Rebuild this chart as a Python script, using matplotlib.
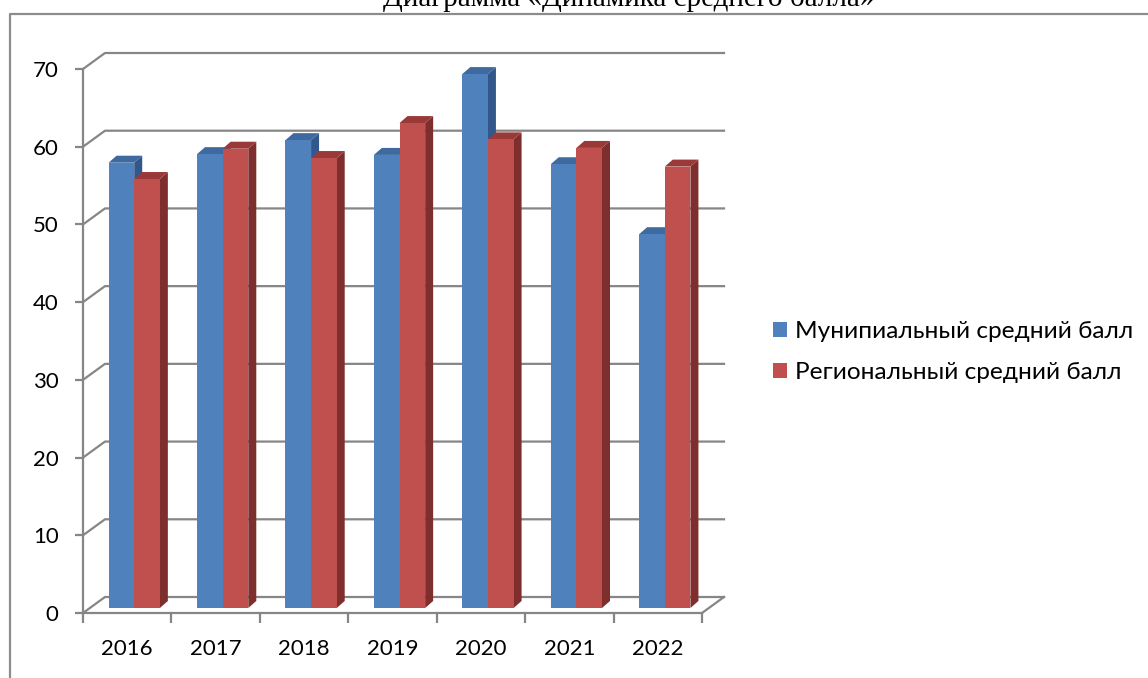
import matplotlib.pyplot as plt
import numpy as np
from matplotlib.patches import Polygon
from matplotlib.lines import Line2D

plt.rcParams['font.family'] = ['Lato', 'DejaVu Sans']

years = ['2016', '2017', '2018', '2019', '2020', '2021', '2022']
muni = [57.3, 58.4, 60.2, 58.3, 68.7, 57.1, 48.1]
region = [55.2, 59.1, 57.9, 62.4, 60.3, 59.2, 56.8]
yticks = [0, 10, 20, 30, 40, 50, 60, 70]
series_names = ['Мунипиальный средний балл', 'Региональный средний балл']

W, H = 1148, 678
fig = plt.figure(figsize=(W / 100, H / 100), dpi=100)
# передняя плоскость диаграммы
ax = fig.add_axes([83 / W, 1 - 613 / H, (702 - 83) / W, (613 - 69) / H])
ax.set_xlim(-0.5, 6.5)
ax.set_ylim(0, 70)

grid_col = '#868686'
# смещение задней стенки (псевдо-3D)
px_x = 7 / (702 - 83)
px_y = 70 / (613 - 69)
wall_dx, wall_dy = 22 * px_x, 16 * px_y
bar_dx, bar_dy = 7 * px_x, 5 * px_y
side_dx, side_dy = 8 * px_x, 7 * px_y
w = 0.29

# сетка на задней стенке и пол
for v in yticks:
    ax.add_line(Line2D([-0.5, -0.5 + wall_dx, 6.5 + wall_dx], [v, v + wall_dy, v + wall_dy],
                       color=grid_col, lw=1.6, clip_on=False, zorder=1))
ax.add_line(Line2D([6.5, 6.5 + wall_dx], [0, wall_dy], color=grid_col, lw=1.6,
                   clip_on=False, zorder=1))

x = np.arange(len(years))
b1 = ax.bar(x + bar_dx - w, muni, width=w, bottom=bar_dy, align='edge',
            color='#4F81BD', zorder=3, clip_on=False)
b2 = ax.bar(x + bar_dx, region, width=w, bottom=bar_dy, align='edge',
            color='#C0504D', zorder=3, clip_on=False)

for bars, side_c, top_c in [(b1, '#33578A', '#3E6AA0'), (b2, '#7E2F2D', '#9A3A38')]:
    for r in bars:
        x0, y0 = r.get_x(), r.get_y()
        x1, y1 = x0 + r.get_width(), y0 + r.get_height()
        side = [(x1, y0), (x1 + side_dx, y0 + side_dy), (x1 + side_dx, y1 + side_dy), (x1, y1)]
        top = [(x0, y1), (x0 + side_dx, y1 + side_dy), (x1 + side_dx, y1 + side_dy), (x1, y1)]
        ax.add_patch(Polygon(side, closed=True, fc=side_c, ec='none', zorder=2.5, clip_on=False))
        ax.add_patch(Polygon(top, closed=True, fc=top_c, ec='none', zorder=2.5, clip_on=False))

# оси
for s in ['top', 'right']:
    ax.spines[s].set_visible(False)
for s in ['left', 'bottom']:
    ax.spines[s].set_color(grid_col)
    ax.spines[s].set_linewidth(1.6)
    ax.spines[s].set_zorder(4)

ax.set_yticks(yticks)
ax.tick_params(axis='y', length=5.5, width=1.6, color=grid_col, pad=12,
               labelsize=16, labelcolor='black')
ax.set_xticks(np.arange(-0.5, 7, 1))
ax.set_xticklabels([])
ax.set_xticks(x, minor=True)
ax.set_xticklabels(years, minor=True)
ax.tick_params(axis='x', which='major', length=7, width=1.6, color=grid_col, direction='out')
ax.tick_params(axis='x', which='minor', length=0, pad=19, labelsize=16, labelcolor='black')

ax.legend([b1, b2], series_names, loc='center left',
          bbox_to_anchor=(773 / W, 1 - 352 / H), bbox_transform=fig.transFigure,
          frameon=False, fontsize=17.6, handlelength=0.57, handleheight=0.57,
          handletextpad=0.35, labelspacing=0.8, borderpad=0, borderaxespad=0)

# рамка
fig.add_artist(Line2D([10 / W, 10 / W, 1], [0, 1 - 14 / H, 1 - 14 / H],
                      transform=fig.transFigure, color='#8c8c8c', lw=1.6))

fig.text(629 / W, 1 - 6 / H, 'Диаграмма «Динамика среднего балла»',
         family='Liberation Serif', fontsize=21, ha='center', va='baseline')

fig.savefig('out.png', dpi=100)
